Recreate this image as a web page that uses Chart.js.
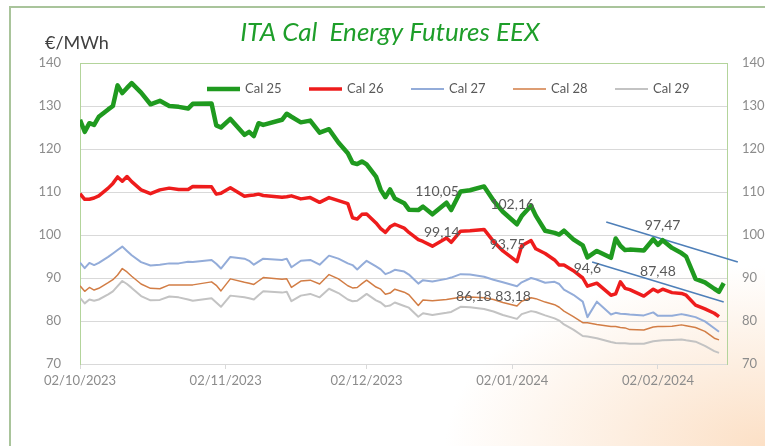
<!DOCTYPE html>
<html>
<head>
<meta charset="utf-8">
<script src="https://cdn.jsdelivr.net/npm/chart.js@4"></script>
<style>
  body { margin: 0; background: #fff; }
  #wrap {
    position: relative; width: 765px; height: 446px; overflow: hidden;
    background: radial-gradient(ellipse 320px 180px at 765px 446px, #fce0c6 0%, #fdeee0 45%, rgba(255,255,255,0) 100%), #fff;
  }
  #frame {
    position: absolute; left: 9px; top: 6px; width: 800px; height: 500px;
    border: 2px solid #a9c49b; box-sizing: border-box;
  }
  canvas { position: absolute; left: 0; top: 0; }
</style>
</head>
<body>
<div id="wrap">
  <div id="frame"></div>
  <canvas id="chart" width="765" height="446"></canvas>
</div>
<script>
const dates = [
  "02/10/2023","03/10/2023","04/10/2023","05/10/2023","06/10/2023","08/10/2023","09/10/2023","10/10/2023","11/10/2023","12/10/2023",
  "13/10/2023","15/10/2023","17/10/2023","19/10/2023","21/10/2023","23/10/2023","25/10/2023","26/10/2023","30/10/2023","31/10/2023",
  "01/11/2023","03/11/2023","06/11/2023","07/11/2023","08/11/2023","09/11/2023","10/11/2023","14/11/2023","15/11/2023","16/11/2023",
  "18/11/2023","20/11/2023","22/11/2023","24/11/2023","26/11/2023","28/11/2023","29/11/2023","30/11/2023","01/12/2023","02/12/2023",
  "04/12/2023","05/12/2023","06/12/2023","07/12/2023","08/12/2023","10/12/2023","11/12/2023","13/12/2023","14/12/2023","16/12/2023",
  "19/12/2023","20/12/2023","22/12/2023","24/12/2023","27/12/2023","29/12/2023","31/12/2023","03/01/2024","04/01/2024","06/01/2024",
  "07/01/2024","09/01/2024","11/01/2024","12/01/2024","13/01/2024","15/01/2024","17/01/2024","18/01/2024","20/01/2024","23/01/2024",
  "24/01/2024","25/01/2024","26/01/2024","27/01/2024","30/01/2024","01/02/2024","02/02/2024","03/02/2024","05/02/2024","07/02/2024",
  "08/02/2024","10/02/2024","12/02/2024","14/02/2024","15/02/2024","16/02/2024"
];

const cal25 = [
  126.8,124.0,126.0,125.6,127.5,129.2,130.0,134.8,133.0,134.2,
  135.3,133.1,130.4,131.2,130.0,129.8,129.4,130.5,130.6,125.5,
  125.0,127.0,123.3,124.0,123.0,126.0,125.6,126.8,128.2,127.5,
  126.2,126.6,123.8,124.6,121.5,119.0,116.8,116.5,117.1,116.4,
  113.6,110.5,108.8,110.6,108.5,107.4,105.9,105.8,106.6,104.8,
  107.5,105.8,110.1,110.4,111.3,108.0,105.4,102.5,104.4,106.8,
  104.5,101.0,100.5,100.1,101.0,99.0,97.6,94.8,96.3,94.7,
  99.2,97.5,96.5,96.6,96.4,99.0,97.7,98.8,97.0,95.8,
  95.0,89.8,89.0,87.5,86.8,88.8
];
const cal26 = [
  109.6,108.3,108.3,108.6,109.1,110.9,112.0,113.5,112.5,113.6,
  112.4,110.5,109.6,110.5,110.9,110.6,110.6,111.3,111.2,109.5,
  109.7,111.0,109.0,109.2,109.3,109.5,109.2,108.8,108.9,109.1,
  108.4,108.7,107.6,108.7,108.0,107.3,104.0,103.7,104.8,104.9,
  102.8,101.5,100.6,101.9,102.5,101.6,100.6,98.9,98.5,97.4,
  99.3,98.3,100.9,101.0,101.3,98.5,96.3,93.8,97.5,98.7,
  96.8,95.7,94.2,93.0,93.0,91.7,90.0,88.1,88.8,86.0,
  86.3,89.1,87.6,87.3,85.8,87.4,86.8,87.4,86.6,86.4,
  86.0,83.7,82.8,81.8,81.0,null
];
const cal27 = [
  93.6,92.3,93.5,93.0,93.5,94.9,95.7,96.5,97.3,96.3,
  95.3,93.7,92.9,93.1,93.4,93.4,93.8,93.7,94.2,93.3,
  92.2,94.9,94.5,94.0,93.1,93.8,94.5,94.2,94.5,92.5,
  94.0,94.2,93.1,95.2,94.5,93.4,93.0,92.0,93.0,94.0,
  92.7,92.0,90.9,91.3,91.9,91.5,90.8,88.7,89.5,89.2,
  89.8,90.1,90.9,90.8,90.3,89.6,89.0,88.1,89.0,90.0,
  89.7,88.9,89.1,88.6,87.3,86.1,84.5,80.9,84.5,81.5,
  81.9,81.7,81.6,81.5,81.3,82.0,81.2,81.2,81.2,81.6,
  81.4,80.9,79.9,78.3,77.5,null
];
const cal28 = [
  88.2,86.9,87.8,87.2,87.6,88.9,89.6,90.7,92.2,91.4,
  90.4,88.6,87.6,87.5,88.4,88.4,88.4,88.4,89.1,88.3,
  87.0,89.8,89.0,88.8,88.5,89.3,90.1,89.7,89.8,87.8,
  89.3,89.5,88.6,90.8,89.8,88.2,87.7,87.8,88.7,89.5,
  87.9,87.4,86.2,86.5,87.4,86.7,86.1,83.6,84.9,84.7,
  85.0,85.2,85.5,85.6,85.4,85.0,84.3,83.5,84.6,85.4,
  85.2,84.4,83.8,83.2,82.3,81.0,79.6,79.6,79.2,78.7,
  78.7,78.5,78.4,78.0,77.9,78.6,78.7,78.7,78.8,79.1,
  78.9,78.5,77.6,76.0,75.6,null
];
const cal29 = [
  85.4,84.1,85.0,84.7,85.0,86.2,86.9,88.1,89.3,88.6,
  87.7,85.8,84.8,84.9,85.7,85.5,85.0,84.7,85.3,84.3,
  83.3,85.9,85.5,85.3,85.0,86.0,86.9,86.6,86.8,84.6,
  85.9,86.3,85.5,87.5,86.5,85.0,84.6,84.7,85.5,86.3,
  84.8,84.3,83.4,83.6,84.3,83.5,83.1,81.0,81.8,81.4,
  81.9,82.1,83.3,83.2,82.8,82.2,81.4,80.5,81.6,82.3,
  82.1,81.3,80.6,80.1,79.2,78.0,76.5,76.4,76.0,75.1,
  74.9,74.8,74.8,74.7,74.7,75.3,75.4,75.5,75.6,75.7,
  75.5,75.2,74.2,73.0,72.6,null
];

const seriesNames = ["Cal 25", "Cal 26", "Cal 27", "Cal 28", "Cal 29"];
const tickDates = ["02/10/2023", "02/11/2023", "02/12/2023", "02/01/2024", "02/02/2024"];

// hand drawn trend lines
const trendUpperDates = ["22/01/2024", "19/02/2024"];
const trendUpperValues = [103.0, 93.7];
const trendLowerDates = ["19/01/2024", "16/02/2024"];
const trendLowerValues = [93.7, 84.4];

// value labels written on the chart
const noteTexts = ["110,05", "102,16", "99,14", "93,75", "94,6", "86,18 83,18", "97,47", "87,48"];
const noteDates = ["17/12/2023", "02/01/2024", "18/12/2023", "01/01/2024", "18/01/2024", "29/12/2023", "03/02/2024", "02/02/2024"];
const noteValues = [110.2, 107.2, 100.5, 97.9, 92.3, 85.8, 102.1, 91.6];

const startDay = Date.UTC(2023, 9, 2);
const toDay = s => {
  const [d, m, y] = s.split("/").map(Number);
  return (Date.UTC(y, m - 1, d) - startDay) / 86400000;
};
const days = dates.map(toDay);
const tickDays = tickDates.map(toDay);
const pts = vals => days.map((d, i) => ({ x: d, y: vals[i] }));
const pair = (ds, vs) => ds.map((d, i) => ({ x: toDay(d), y: vs[i] }));

const FONT = "Lato, 'Open Sans', sans-serif";
const GRID = "#d9d9d9";
const FRAME = "#b3d49b";

const decor = {
  id: "decor",
  afterDraw(chart) {
    const { ctx, chartArea, scales } = chart;
    ctx.save();
    ctx.font = "18px " + FONT;
    ctx.fillStyle = "#404040";
    ctx.textAlign = "left";
    ctx.textBaseline = "middle";
    ctx.fillText("€/MWh", chartArea.left - 35, chartArea.top - 20);

    // legend inside plot area
    ctx.font = "13px " + FONT;
    ctx.fillStyle = "#595959";
    seriesNames.forEach((name, i) => {
      const ds = chart.data.datasets[i];
      const x = chartArea.left + 127 + i * 102;
      const y = chartArea.top + 26;
      ctx.beginPath();
      ctx.strokeStyle = ds.borderColor;
      ctx.lineWidth = ds.borderWidth;
      ctx.lineCap = "butt";
      ctx.moveTo(x, y);
      ctx.lineTo(x + 33, y);
      ctx.stroke();
      ctx.fillText(name, x + 38, y);
    });

    ctx.font = "14px " + FONT;
    ctx.textAlign = "center";
    noteTexts.forEach((t, i) => {
      ctx.fillText(t, scales.x.getPixelForValue(toDay(noteDates[i])), scales.y.getPixelForValue(noteValues[i]));
    });
    ctx.restore();
  }
};

const line = (label, vals, color, width) => ({
  label, data: pts(vals), borderColor: color, borderWidth: width,
  pointRadius: 0, tension: 0, borderJoinStyle: "round", fill: false
});

new Chart(document.getElementById("chart"), {
  type: "line",
  data: {
    datasets: [
      line("Cal 25", cal25, "#1f9a1f", 4.5),
      line("Cal 26", cal26, "#ee1c1c", 3.5),
      line("Cal 27", cal27, "#93acd9", 2),
      line("Cal 28", cal28, "#d27d45", 1.5),
      line("Cal 29", cal29, "#c3c3c3", 2),
      { label: "trend1", data: pair(trendUpperDates, trendUpperValues), borderColor: "#4e7fb8", borderWidth: 1.6, pointRadius: 0, clip: false },
      { label: "trend2", data: pair(trendLowerDates, trendLowerValues), borderColor: "#4e7fb8", borderWidth: 1.6, pointRadius: 0, clip: false }
    ]
  },
  options: {
    responsive: false,
    animation: false,
    layout: { padding: { left: 15, right: 0, top: 10, bottom: 0 } },
    plugins: {
      legend: { display: false },
      tooltip: { enabled: false },
      title: {
        display: true,
        text: "ITA Cal  Energy Futures EEX",
        color: "#1e9e2a",
        font: { family: FONT, size: 26, style: "italic", weight: "normal", lineHeight: 1.1 },
        padding: { top: 8, bottom: 16.4 }
      }
    },
    scales: {
      x: {
        type: "linear",
        min: 0,
        max: 137.7,
        afterFit: s => { s.height = 82; },
        afterBuildTicks: s => { s.ticks = tickDays.map(v => ({ value: v })); },
        ticks: {
          autoSkip: false, maxRotation: 0, padding: 4,
          color: "#8c8c8c", font: { family: FONT, size: 13 },
          callback: v => tickDates[tickDays.indexOf(v)] || ""
        },
        grid: { drawOnChartArea: false, drawTicks: true, tickLength: 5, color: GRID },
        border: { color: GRID }
      },
      y: {
        position: "left",
        min: 70, max: 140,
        afterFit: s => { s.width = 65; },
        ticks: { stepSize: 10, padding: 19, color: "#8c8c8c", font: { family: FONT, size: 13 } },
        grid: { drawTicks: false, color: c => (c.tick && c.tick.value === 140 ? FRAME : GRID) },
        border: { color: FRAME }
      },
      y2: {
        position: "right",
        display: true,
        min: 70, max: 140,
        afterFit: s => { s.width = 38; },
        ticks: { stepSize: 10, padding: 15, color: "#8c8c8c", font: { family: FONT, size: 13 } },
        grid: { drawOnChartArea: false, drawTicks: false },
        border: { color: FRAME }
      }
    }
  },
  plugins: [decor]
});
</script>
</body>
</html>
